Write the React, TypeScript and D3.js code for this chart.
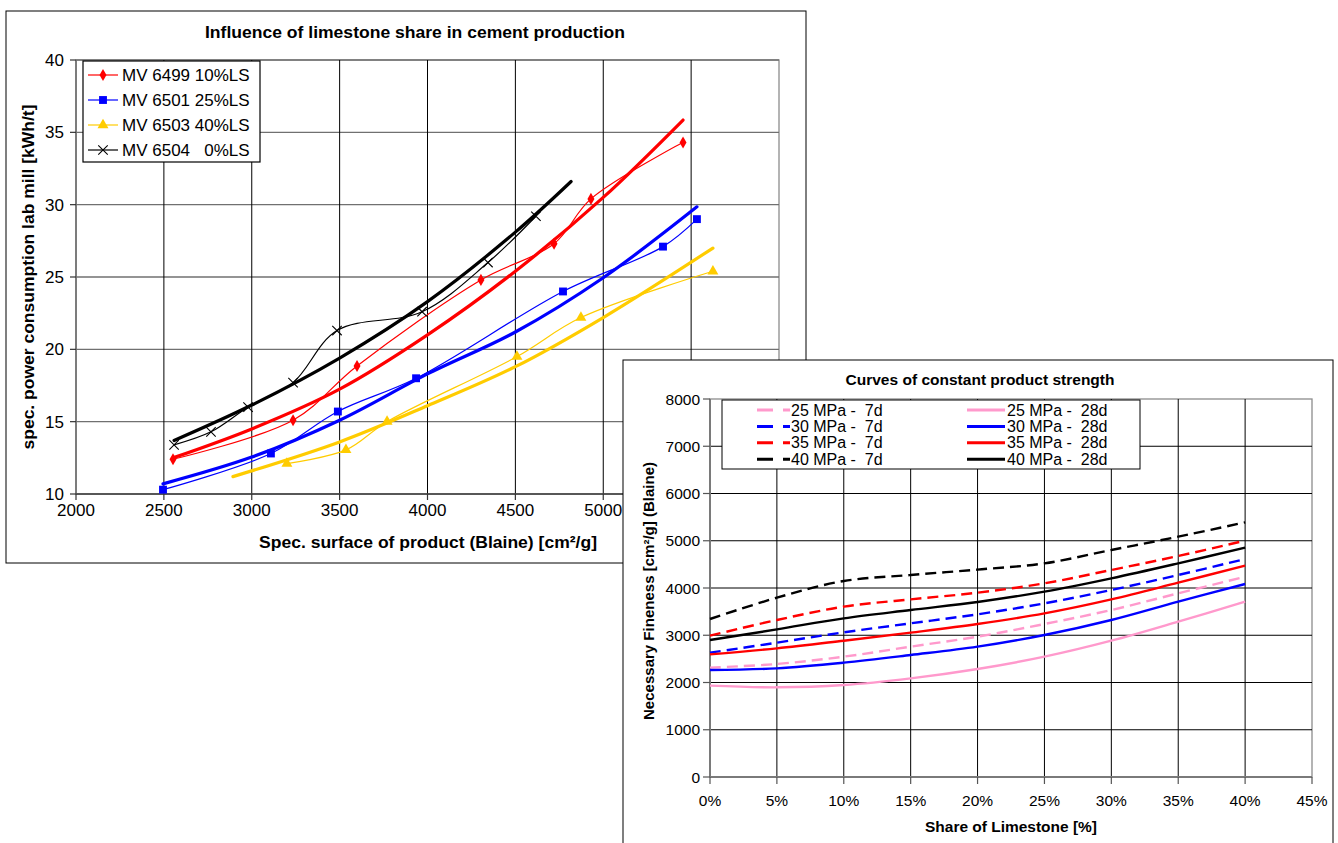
import React from 'react';
import * as d3 from 'd3';

// ---------- Left chart data ----------
const blaineTicks = [2000, 2500, 3000, 3500, 4000, 4500, 5000, 5500, 6000];
const powerTicks = [10, 15, 20, 25, 30, 35, 40];

const mv6499Points: [number, number][] = [[2552, 12.4], [3235, 15.1], [3599, 18.85], [4304, 24.8], [4720, 27.3], [4930, 30.4], [5454, 34.3]];
const mv6499Trend: [number, number][] = [[2552, 12.5], [3000, 14.5], [3500, 17.25], [4000, 21.0], [4500, 25.4], [5000, 30.5], [5454, 35.85]];

const mv6501Points: [number, number][] = [[2495, 10.3], [3109, 12.8], [3490, 15.7], [3935, 18.0], [4771, 24.0], [5340, 27.1], [5533, 29.0]];
const mv6501Trend: [number, number][] = [[2495, 10.7], [3000, 12.55], [3500, 15.1], [4000, 18.3], [4500, 21.2], [5000, 24.95], [5533, 29.85]];

const mv6503Points: [number, number][] = [[3200, 12.1], [3536, 13.05], [3770, 15.0], [4509, 19.5], [4873, 22.2], [5624, 25.4]];
const mv6503Trend: [number, number][] = [[2893, 11.2], [3500, 13.6], [4000, 16.1], [4500, 18.8], [5000, 22.2], [5624, 27.0]];

const mv6504Points: [number, number][] = [[2558, 13.4], [2768, 14.3], [2979, 16.0], [3235, 17.7], [3485, 21.3], [3969, 22.6], [4344, 26.0], [4617, 29.2]];
const mv6504Trend: [number, number][] = [[2558, 13.7], [3000, 16.15], [3500, 19.4], [4000, 23.3], [4500, 28.1], [4817, 31.6]];

const leftSeries = [
  { name: 'MV 6499 10%LS', color: '#FF0000', marker: 'diamond', points: mv6499Points, trend: mv6499Trend },
  { name: 'MV 6501 25%LS', color: '#0000FF', marker: 'square', points: mv6501Points, trend: mv6501Trend },
  { name: 'MV 6503 40%LS', color: '#FFCC00', marker: 'triangle', points: mv6503Points, trend: mv6503Trend },
  { name: 'MV 6504   0%LS', color: '#000000', marker: 'x', points: mv6504Points, trend: mv6504Trend },
];

// ---------- Right chart data ----------
const limestoneShare = [0, 5, 10, 15, 20, 25, 30, 35, 40];
const shareTicks = [0, 5, 10, 15, 20, 25, 30, 35, 40, 45];
const finenessTicks = [0, 1000, 2000, 3000, 4000, 5000, 6000, 7000, 8000];

const mpa25d7 = [2314, 2392, 2547, 2758, 2970, 3238, 3534, 3887, 4240];
const mpa30d7 = [2631, 2843, 3062, 3252, 3443, 3675, 3958, 4275, 4614];
const mpa35d7 = [2991, 3323, 3605, 3760, 3901, 4099, 4381, 4677, 5002];
const mpa40d7 = [3344, 3795, 4148, 4275, 4390, 4522, 4804, 5086, 5390];
const mpa25d28 = [1933, 1898, 1947, 2088, 2286, 2547, 2885, 3288, 3711];
const mpa30d28 = [2265, 2300, 2420, 2582, 2758, 3005, 3323, 3711, 4085];
const mpa35d28 = [2596, 2723, 2885, 3055, 3238, 3464, 3760, 4113, 4473];
const mpa40d28 = [2899, 3125, 3358, 3534, 3704, 3922, 4205, 4522, 4854];

const rightSeries = [
  { name: '25 MPa -  7d', color: '#FF99CC', dashed: true, values: mpa25d7 },
  { name: '30 MPa -  7d', color: '#0000FF', dashed: true, values: mpa30d7 },
  { name: '35 MPa -  7d', color: '#FF0000', dashed: true, values: mpa35d7 },
  { name: '40 MPa -  7d', color: '#000000', dashed: true, values: mpa40d7 },
  { name: '25 MPa -  28d', color: '#FF99CC', dashed: false, values: mpa25d28 },
  { name: '30 MPa -  28d', color: '#0000FF', dashed: false, values: mpa30d28 },
  { name: '35 MPa -  28d', color: '#FF0000', dashed: false, values: mpa35d28 },
  { name: '40 MPa -  28d', color: '#000000', dashed: false, values: mpa40d28 },
];

const FONT = 'Liberation Sans, Arial, Helvetica, sans-serif';

function markerPath(kind: string): string {
  switch (kind) {
    case 'diamond': return d3.symbol(d3.symbolDiamond, 42)() as string;
    case 'square': return d3.symbol(d3.symbolSquare, 62)() as string;
    case 'triangle': return d3.symbol(d3.symbolTriangle, 52)() as string;
    default: return d3.symbol(d3.symbolTimes, 60)() as string;
  }
}

function Marker({ kind, color, x, y }: { kind: string; color: string; x: number; y: number }) {
  const d = markerPath(kind);
  if (kind === 'x') {
    return <path d={d} transform={`translate(${x},${y})`} fill="none" stroke={color} strokeWidth={1.1} />;
  }
  return <path d={d} transform={`translate(${x},${y})`} fill={color} stroke="none" />;
}

function LeftChart() {
  const x = d3.scaleLinear().domain([2000, 6000]).range([76, 779]);
  const y = d3.scaleLinear().domain([10, 40]).range([494, 60]);
  const curve = d3.line<[number, number]>().x(d => x(d[0])).y(d => y(d[1])).curve(d3.curveCatmullRom.alpha(0.5));
  return (
    <g>
      <rect x={6} y={11} width={800} height={552} fill="#fff" stroke="#000" strokeWidth={1} />
      <text x={415} y={38} textAnchor="middle" fontFamily={FONT} fontWeight="bold" fontSize={16.5} textLength={420} lengthAdjust="spacingAndGlyphs">Influence of limestone share in cement production</text>
      <rect x={76} y={60} width={703} height={434} fill="none" stroke="#8c8c8c" strokeWidth={1.3} />
      {powerTicks.map(t => (
        <line key={'hy' + t} x1={76} x2={779} y1={y(t)} y2={y(t)} stroke="#707070" strokeWidth={1.4} />
      ))}
      {blaineTicks.slice(1, -1).map(t => (
        <line key={'vx' + t} x1={x(t)} x2={x(t)} y1={60} y2={494} stroke="#000" strokeWidth={1} />
      ))}
      <line x1={76} x2={76} y1={60} y2={494} stroke="#6e6e6e" strokeWidth={1.6} />
      <line x1={76} x2={779} y1={494} y2={494} stroke="#4a4a4a" strokeWidth={1.4} />
      {powerTicks.map(t => (
        <g key={'yt' + t}>
          <line x1={70} x2={76} y1={y(t)} y2={y(t)} stroke="#333" strokeWidth={1.2} />
          <text x={64} y={y(t) + 6} textAnchor="end" fontFamily={FONT} fontSize={17}>{t}</text>
        </g>
      ))}
      {blaineTicks.map(t => (
        <g key={'xt' + t}>
          <line x1={x(t)} x2={x(t)} y1={494} y2={500} stroke="#333" strokeWidth={1.2} />
          <text x={x(t)} y={516} textAnchor="middle" fontFamily={FONT} fontSize={17}>{t}</text>
        </g>
      ))}
      <text x={428} y={548} textAnchor="middle" fontFamily={FONT} fontWeight="bold" fontSize={17} textLength={338} lengthAdjust="spacingAndGlyphs">Spec. surface of product (Blaine) [cm²/g]</text>
      <text transform="translate(34,277) rotate(-90)" textAnchor="middle" fontFamily={FONT} fontWeight="bold" fontSize={17} textLength={345} lengthAdjust="spacingAndGlyphs">spec. power consumption lab mill [kWh/t]</text>
      {leftSeries.map(s => (
        <g key={s.name}>
          <path d={curve(s.points) as string} fill="none" stroke={s.color} strokeWidth={1.2} />
          <path d={curve(s.trend) as string} fill="none" stroke={s.color} strokeWidth={3.2} strokeLinecap="round" />
          {s.points.map((p, i) => (
            <Marker key={i} kind={s.marker} color={s.color} x={x(p[0])} y={y(p[1])} />
          ))}
        </g>
      ))}
      <rect x={83} y={61} width={177} height={101} fill="#fff" stroke="#000" strokeWidth={1.2} />
      {leftSeries.map((s, i) => {
        const ly = 75 + i * 25;
        return (
          <g key={'lg' + s.name}>
            <line x1={88} x2={118} y1={ly} y2={ly} stroke={s.color} strokeWidth={1.2} />
            <Marker kind={s.marker} color={s.color} x={103} y={ly} />
            <text x={122} y={ly + 6} fontFamily={FONT} fontSize={17} style={{ whiteSpace: 'pre' }}>{s.name}</text>
          </g>
        );
      })}
    </g>
  );
}

function RightChart() {
  const x = d3.scaleLinear().domain([0, 45]).range([710, 1312]);
  const y = d3.scaleLinear().domain([0, 8000]).range([777, 399]);
  const line = d3.line<number>().x((_, i) => x(limestoneShare[i])).y(d => y(d)).curve(d3.curveCatmullRom.alpha(0.5));
  return (
    <g>
      <rect x={623} y={360} width={710} height={500} fill="#fff" stroke="#000" strokeWidth={1} />
      <text x={980} y={385} textAnchor="middle" fontFamily={FONT} fontWeight="bold" fontSize={15.5} textLength={269} lengthAdjust="spacingAndGlyphs">Curves of constant product strength</text>
      <rect x={710} y={399} width={602} height={378} fill="none" stroke="#8c8c8c" strokeWidth={1.3} />
      {finenessTicks.slice(1, -1).map(t => (
        <line key={'rh' + t} x1={710} x2={1312} y1={y(t)} y2={y(t)} stroke="#000" strokeWidth={1} />
      ))}
      {shareTicks.slice(1, -1).map(t => (
        <line key={'rv' + t} x1={x(t)} x2={x(t)} y1={399} y2={777} stroke="#000" strokeWidth={1} />
      ))}
      <line x1={710} x2={710} y1={399} y2={777} stroke="#7a7a7a" strokeWidth={2} />
      <line x1={710} x2={1312} y1={777} y2={777} stroke="#7a7a7a" strokeWidth={2} />
      {finenessTicks.map(t => (
        <g key={'ryt' + t}>
          <line x1={703} x2={710} y1={y(t)} y2={y(t)} stroke="#555" strokeWidth={1.2} />
          <text x={700} y={y(t) + 5.5} textAnchor="end" fontFamily={FONT} fontSize={15.5}>{t}</text>
        </g>
      ))}
      {shareTicks.map(t => (
        <g key={'rxt' + t}>
          <line x1={x(t)} x2={x(t)} y1={777} y2={784} stroke="#555" strokeWidth={1.2} />
          <text x={x(t)} y={806} textAnchor="middle" fontFamily={FONT} fontSize={15.5}>{t + '%'}</text>
        </g>
      ))}
      <text x={1011} y={832} textAnchor="middle" fontFamily={FONT} fontWeight="bold" fontSize={15.5} textLength={172} lengthAdjust="spacingAndGlyphs">Share of Limestone [%]</text>
      <text transform="translate(654,591) rotate(-90)" textAnchor="middle" fontFamily={FONT} fontWeight="bold" fontSize={15} textLength={258} lengthAdjust="spacingAndGlyphs">Necessary Fineness [cm²/g] (Blaine)</text>
      {rightSeries.map(s => (
        <path key={s.name} d={line(s.values) as string} fill="none" stroke={s.color} strokeWidth={2.4}
          strokeDasharray={s.dashed ? '11,6' : undefined} />
      ))}
      <rect x={722} y={400} width={418} height={69} fill="#fff" stroke="#000" strokeWidth={1} />
      {rightSeries.map((s, i) => {
        const col = s.dashed ? 0 : 1;
        const row = i % 4;
        const ly = 410 + row * 16.4;
        const lx1 = col === 0 ? 757 : 967;
        const lx2 = col === 0 ? 790 : 1005;
        const tx = col === 0 ? 791 : 1007;
        return (
          <g key={'rlg' + s.name}>
            <line x1={lx1} x2={lx2} y1={ly} y2={ly} stroke={s.color} strokeWidth={3}
              strokeDasharray={s.dashed ? '16,10' : undefined} />
            <text x={tx} y={ly + 5.5} fontFamily={FONT} fontSize={16} style={{ whiteSpace: 'pre' }}>{s.name}</text>
          </g>
        );
      })}
    </g>
  );
}

export default function App() {
  return (
    <svg width={1338} height={843} style={{ position: 'absolute', left: 0, top: 0, background: '#fff' }}>
      <rect x={0} y={0} width={1338} height={843} fill="#fff" />
      <LeftChart />
      <RightChart />
    </svg>
  );
}
